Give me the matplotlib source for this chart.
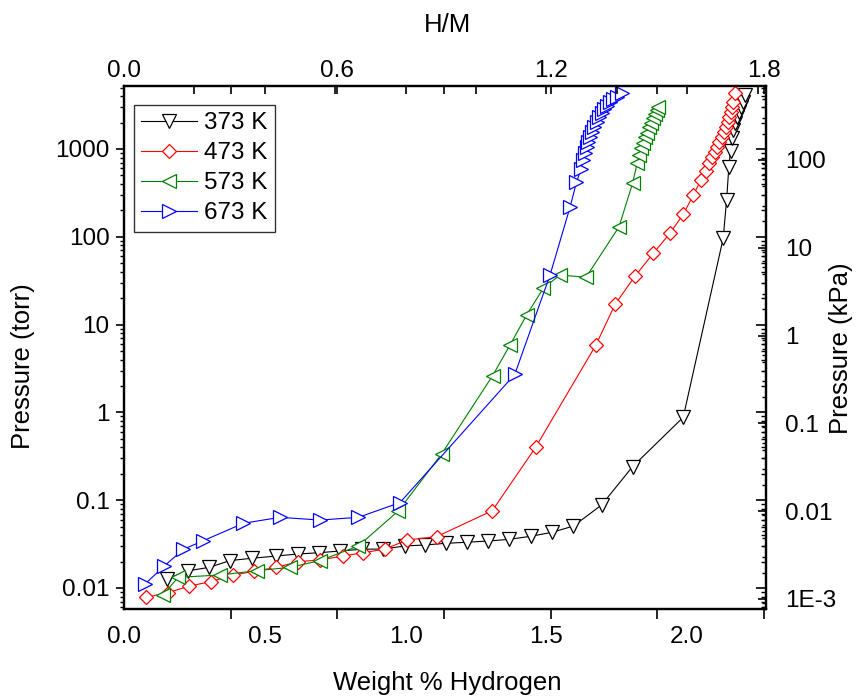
import numpy as np
import matplotlib
matplotlib.use("Agg")
import matplotlib.pyplot as plt
from matplotlib.ticker import FixedLocator, FixedFormatter, NullFormatter, LogLocator

plt.rcParams['font.family'] = ['Liberation Sans', 'DejaVu Sans']

# ---------------- data (weight % H, pressure in torr) ----------------
wt_373 = [0.152, 0.228, 0.303, 0.376, 0.453, 0.540, 0.617, 0.692, 0.767, 0.844,
          0.921, 0.998, 1.069, 1.143, 1.219, 1.294, 1.368, 1.444, 1.521, 1.596,
          1.696, 1.806, 1.986, 2.128, 2.140, 2.148, 2.154, 2.158, 2.164, 2.170,
          2.178, 2.185, 2.191, 2.197, 2.205]
p_373 = [0.0127, 0.0157, 0.0172, 0.0205, 0.0218, 0.0231, 0.0244, 0.0252, 0.0264, 0.0276,
         0.0278, 0.0301, 0.0309, 0.0323, 0.0332, 0.0343, 0.0358, 0.0388, 0.0431, 0.0508,
         0.0881, 0.241, 0.879, 96.2, 262, 619, 957, 1324, 1644, 1995,
         2333, 2661, 3034, 3459, 4121]

wt_473 = [0.078, 0.157, 0.232, 0.308, 0.388, 0.463, 0.540, 0.619, 0.696, 0.776,
          0.850, 0.927, 1.006, 1.110, 1.308, 1.462, 1.676, 1.744, 1.815, 1.880,
          1.939, 1.986, 2.022, 2.049, 2.067, 2.078, 2.088, 2.099, 2.107, 2.114,
          2.123, 2.131, 2.138, 2.144, 2.150, 2.154, 2.160, 2.164, 2.170]
p_473 = [0.00783, 0.00885, 0.01054, 0.0118, 0.01406, 0.0155, 0.01718, 0.01995, 0.02084, 0.0231,
         0.0252, 0.0278, 0.0352, 0.0384, 0.0760, 0.401, 5.86, 17.0, 35.7, 64.9,
         110, 180, 299, 444, 566, 687, 804, 931, 1062, 1211,
         1380, 1574, 1795, 2046, 2333, 2661, 3034, 3459, 4300]

wt_573 = [0.137, 0.193, 0.341, 0.471, 0.590, 0.696, 0.832, 0.974, 1.128, 1.309,
          1.371, 1.430, 1.489, 1.548, 1.641, 1.758, 1.806, 1.823, 1.830, 1.837,
          1.844, 1.851, 1.858, 1.865, 1.873, 1.880, 1.887, 1.892, 1.897]
p_573 = [0.00832, 0.01324, 0.01406, 0.01574, 0.01718, 0.0205, 0.0301, 0.0753, 0.336, 2.62,
         5.86, 12.9, 25.9, 36.7, 34.6, 130, 406, 698, 855, 1019,
         1180, 1358, 1535, 1766, 1995, 2239, 2506, 2780, 3034]

wt_673 = [0.0746, 0.143, 0.211, 0.282, 0.424, 0.554, 0.696, 0.832, 0.980, 1.388,
          1.513, 1.584, 1.607, 1.623, 1.631, 1.637, 1.643, 1.649, 1.655, 1.661,
          1.669, 1.679, 1.688, 1.696, 1.705, 1.714, 1.726, 1.738, 1.750, 1.767]
p_673 = [0.0111, 0.0178, 0.0276, 0.0346, 0.0546, 0.0638, 0.0594, 0.0638, 0.0938, 2.72,
         36.7, 217, 418, 592, 750, 893, 1062, 1211, 1380, 1574,
         1795, 2046, 2296, 2541, 2831, 3090, 3404, 3681, 3945, 4305]

labels = ['373 K', '473 K', '573 K', '673 K']
colors = ['black', '#FF0000', '#008000', '#0000FF']
markers = ['v', 'D', '<', '>']

wt_ticks = [0.0, 0.5, 1.0, 1.5, 2.0]
wt_tick_labels = ['0.0', '0.5', '1.0', '1.5', '2.0']
hm_major = [0.0, 0.6, 1.2, 1.8]
hm_major_labels = ['0.0', '0.6', '1.2', '1.8']
hm_minor = [0.3, 0.9, 1.5]
torr_ticks = [0.01, 0.1, 1, 10, 100, 1000]
torr_labels = ['0.01', '0.1', '1', '10', '100', '1000']
kpa_ticks = [1e-3, 0.01, 0.1, 1, 10, 100]
kpa_labels = ['1E-3', '0.01', '0.1', '1', '10', '100']

HM_PER_WT = 0.7919
KPA_PER_TORR = 0.133322
XMAX = 2.28
YLIM = (0.005841, 5218)

# ---------------- figure ----------------
fig = plt.figure(figsize=(8.6, 6.96), dpi=100)
L, R, T, B = 124/860, 766/860, 1-86/696, 1-608.5/696
ax = fig.add_axes([L, B, R-L, T-B])

series = [(wt_373, p_373), (wt_473, p_473), (wt_573, p_573), (wt_673, p_673)]
for (x, y), lab, c, m in zip(series, labels, colors, markers):
    ms = 7.4 if m == 'D' else 9.8
    ax.plot(x, y, color=c, lw=0.8, marker=m, ms=ms, mfc='white', mec=c, mew=0.9, label=lab)

ax.set_yscale('log')
ax.set_xlim(0, XMAX)
ax.set_ylim(*YLIM)

FS = 17.5
# left axis
ax.yaxis.set_major_locator(FixedLocator(torr_ticks))
ax.yaxis.set_major_formatter(FixedFormatter(torr_labels))
ax.yaxis.set_minor_locator(LogLocator(base=10, subs=np.arange(2, 10)))
ax.yaxis.set_minor_formatter(NullFormatter())
ax.tick_params(axis='y', which='major', direction='out', length=5.5, width=1.2, pad=5, labelsize=FS)
ax.tick_params(axis='y', which='minor', direction='out', length=3, width=1.0)
# bottom axis
ax.xaxis.set_major_locator(FixedLocator(wt_ticks))
ax.xaxis.set_major_formatter(FixedFormatter(wt_tick_labels))
ax.xaxis.set_minor_locator(FixedLocator([h / HM_PER_WT for h in hm_major + hm_minor]))
ax.tick_params(axis='x', which='major', length=0, pad=12.5, labelsize=FS)
ax.tick_params(axis='x', which='minor', direction='out', length=7, width=1.2)
for s in ax.spines.values():
    s.set_linewidth(1.5)

# right axis kPa
axr = ax.twinx()
axr.set_yscale('log')
axr.set_ylim(YLIM[0]*KPA_PER_TORR, YLIM[1]*KPA_PER_TORR)
axr.yaxis.set_major_locator(FixedLocator(kpa_ticks))
axr.yaxis.set_major_formatter(FixedFormatter(kpa_labels))
axr.yaxis.set_minor_locator(LogLocator(base=10, subs=np.arange(2, 10)))
axr.yaxis.set_minor_formatter(NullFormatter())
axr.tick_params(axis='y', which='major', direction='in', length=5.5, width=1.2, pad=13.5, labelsize=FS)
axr.tick_params(axis='y', which='minor', direction='in', length=3, width=1.0)

# right mirror of torr ticks
axr2 = ax.twinx()
axr2.set_yscale('log')
axr2.set_ylim(*YLIM)
axr2.yaxis.set_major_locator(FixedLocator(torr_ticks))
axr2.yaxis.set_minor_locator(LogLocator(base=10, subs=np.arange(2, 10)))
axr2.yaxis.set_major_formatter(NullFormatter())
axr2.yaxis.set_minor_formatter(NullFormatter())
axr2.tick_params(axis='y', which='major', direction='in', length=7, width=1.2)
axr2.tick_params(axis='y', which='minor', direction='in', length=3.5, width=1.0)

# top axis H/M
axt = ax.twiny()
axt.set_xlim(0, XMAX * HM_PER_WT)
axt.xaxis.set_major_locator(FixedLocator(hm_major))
axt.xaxis.set_major_formatter(FixedFormatter(hm_major_labels))
axt.xaxis.set_minor_locator(FixedLocator(hm_minor))
axt.tick_params(axis='x', which='major', direction='in', length=6, width=1.2, pad=3, labelsize=FS)
axt.tick_params(axis='x', which='minor', direction='in', length=6, width=1.2)

# top wt% ticks
axt2 = ax.twiny()
axt2.set_xlim(0, XMAX)
axt2.xaxis.set_major_locator(FixedLocator(np.arange(0.25, 2.26, 0.25)))
axt2.xaxis.set_major_formatter(NullFormatter())
axt2.tick_params(axis='x', which='major', direction='in', length=6, width=1.2)

for a in (axr, axr2, axt, axt2):
    for s in a.spines.values():
        s.set_linewidth(1.5)

# axis titles
LS = 18.5
fig.text(23/860, 1-366/696, 'Pressure (torr)', rotation=90, ha='center', va='center', fontsize=LS)
fig.text(841/860, 1-348/696, 'Pressure (kPa)', rotation=90, ha='center', va='center', fontsize=LS)
fig.text(447/860, 1-683/696, 'Weight % Hydrogen', ha='center', va='center', fontsize=LS)
fig.text(447/860, 1-25/696, 'H/M', ha='center', va='center', fontsize=LS)

leg = ax.legend(loc='upper left', bbox_to_anchor=(10/642, 1-19/522.5), fontsize=FS,
                handlelength=2.3, handletextpad=0.3, borderaxespad=0, borderpad=0.3,
                labelspacing=0.33, fancybox=False, framealpha=1, edgecolor='#333333')
leg.get_frame().set_linewidth(1.0)

fig.savefig('out.png', dpi=100)
